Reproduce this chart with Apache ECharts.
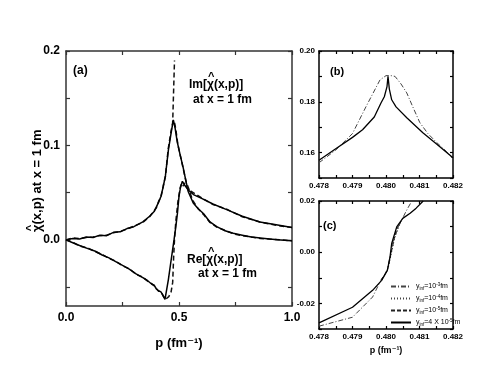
<!DOCTYPE html>
<html>
<head>
<meta charset="utf-8">
<script src="https://cdn.jsdelivr.net/npm/echarts@6/dist/echarts.min.js"></script>
<style>
  html, body { margin: 0; padding: 0; background: #fff; }
  #chart { width: 491px; height: 378px; }
</style>
</head>
<body>
<div id="chart"></div>
<script>
// panel (a): Im and Re of chi-hat at x = 1 fm
var pImSolid = [0, 0.03, 0.06, 0.09, 0.12, 0.15, 0.18, 0.21, 0.24, 0.27, 0.30, 0.34, 0.37, 0.39, 0.40, 0.41, 0.42, 0.43, 0.44, 0.453, 0.465, 0.475, 0.483, 0.492, 0.505, 0.518, 0.53, 0.541, 0.563, 0.585, 0.608, 0.637, 0.667, 0.70, 0.74, 0.78, 0.82, 0.86, 0.90, 0.95, 1.0];
var imSolid = [0, 0.0015, 0.001, 0.003, 0.0025, 0.005, 0.0045, 0.008, 0.0085, 0.012, 0.014, 0.019, 0.025, 0.030, 0.035, 0.040, 0.046, 0.056, 0.068, 0.095, 0.113, 0.127, 0.118, 0.104, 0.090, 0.077, 0.063, 0.051, 0.039, 0.033, 0.028, 0.019, 0.014, 0.010, 0.007, 0.005, 0.003, 0.002, 0.001, 0.0, -0.001];
// the dashed spike is drawn once (null after its top) so its dashes stay visible
var pImDash = [0, 0.03, 0.06, 0.09, 0.12, 0.15, 0.18, 0.21, 0.24, 0.27, 0.30, 0.34, 0.37, 0.39, 0.40, 0.41, 0.42, 0.43, 0.44, 0.452, 0.464, 0.472, 0.4801, 0.4801, 0.4805, 0.486, 0.495, 0.507, 0.52, 0.532, 0.545, 0.56, 0.585, 0.608, 0.637, 0.667, 0.70, 0.74, 0.78, 0.82, 0.86, 0.90, 0.95, 1.0];
var imDash = [0, 0.002, 0.0015, 0.0025, 0.003, 0.0045, 0.005, 0.0075, 0.009, 0.0115, 0.0145, 0.0185, 0.0245, 0.031, 0.034, 0.041, 0.045, 0.057, 0.067, 0.096, 0.114, 0.124, 0.19, null, 0.124, 0.117, 0.101, 0.088, 0.074, 0.061, 0.053, 0.042, 0.033, 0.027, 0.0185, 0.0135, 0.0105, 0.0065, 0.0045, 0.003, 0.0015, 0.001, 0.0, -0.001];
var pReSolid = [0, 0.03, 0.06, 0.10, 0.13, 0.16, 0.19, 0.22, 0.25, 0.28, 0.31, 0.34, 0.36, 0.38, 0.39, 0.40, 0.41, 0.42, 0.43, 0.438, 0.445, 0.453, 0.463, 0.472, 0.478, 0.486, 0.493, 0.50, 0.507, 0.515, 0.525, 0.54, 0.564, 0.60, 0.65, 0.711, 0.78, 0.858, 0.93, 1.0];
var reSolid = [0, -0.003, -0.006, -0.0095, -0.012, -0.016, -0.019, -0.023, -0.027, -0.031, -0.036, -0.040, -0.043, -0.047, -0.048, -0.052, -0.054, -0.055, -0.059, -0.063, -0.061, -0.042, -0.025, -0.010, 0.0, 0.014, 0.028, 0.046, 0.056, 0.062, 0.058, 0.053, 0.048, 0.044, 0.038, 0.032, 0.025, 0.019, 0.016, 0.013];
var pReDash = [0, 0.03, 0.06, 0.10, 0.13, 0.16, 0.19, 0.22, 0.25, 0.28, 0.31, 0.34, 0.36, 0.38, 0.39, 0.40, 0.41, 0.42, 0.43, 0.44, 0.447, 0.455, 0.465, 0.472, 0.476, 0.48, 0.486, 0.495, 0.505, 0.512, 0.52, 0.527, 0.54, 0.556, 0.564, 0.60, 0.65, 0.711, 0.78, 0.858, 0.93, 1.0];
var reDash = [0, -0.0025, -0.0065, -0.009, -0.0125, -0.0155, -0.0195, -0.0225, -0.0275, -0.0305, -0.0365, -0.0395, -0.0435, -0.0465, -0.0485, -0.0515, -0.0545, -0.0545, -0.0595, -0.063, -0.065, -0.060, -0.055, -0.045, -0.020, 0.0, 0.020, 0.040, 0.055, 0.060, 0.057, 0.061, 0.054, 0.051, 0.049, 0.0445, 0.0375, 0.0325, 0.0245, 0.019, 0.0155, 0.013];

// panel (b): zoom on the Im peak
var pPeakDashDot = [0.478, 0.4785, 0.479, 0.4794, 0.47982, 0.4800, 0.48015, 0.48027, 0.48045, 0.48062, 0.4808, 0.48101, 0.48125, 0.48151, 0.4818, 0.482];
var peakDashDot = [0.156, 0.161, 0.1675, 0.178, 0.1886, 0.1903, 0.1903, 0.190, 0.187, 0.1835, 0.178, 0.1718, 0.1675, 0.164, 0.1605, 0.1575];
var pPeakSolid = [0.478, 0.4785, 0.479, 0.4793, 0.47965, 0.47985, 0.47995, 0.48003, 0.48006, 0.4801, 0.48017, 0.4803, 0.48062, 0.4811, 0.4815, 0.482];
var peakSolid = [0.157, 0.1615, 0.166, 0.169, 0.174, 0.1795, 0.182, 0.186, 0.190, 0.185, 0.1808, 0.178, 0.1737, 0.1678, 0.1635, 0.158];

// panel (c): zoom on the Re zero crossing
var pCrossDashDot = [0.478, 0.479, 0.4796, 0.4798, 0.48004, 0.48022, 0.48042, 0.4806, 0.48077];
var crossDashDot = [-0.0289, -0.0254, -0.0175, -0.0122, -0.0071, 0.0047, 0.0113, 0.016, 0.0200];
var pCrossDot = [0.4797, 0.4799, 0.48008, 0.48024, 0.4804];
var crossDot = [-0.0135, -0.0105, -0.0055, 0.0045, 0.0108];
var pCrossDash = [0.47985, 0.48004, 0.48014, 0.4803, 0.48045];
var crossDash = [-0.0108, -0.0072, -0.0012, 0.0085, 0.0120];
var pCrossSolid = [0.478, 0.479, 0.4796, 0.47987, 0.48004, 0.48012, 0.48017, 0.48032, 0.4805, 0.48072, 0.4809, 0.48111];
var crossSolid = [-0.0276, -0.0215, -0.0149, -0.011, -0.0071, -0.0018, 0.0034, 0.0099, 0.0132, 0.0152, 0.0172, 0.0200];

var legendNames = ['y_inf=10^-3 fm', 'y_inf=10^-4 fm', 'y_inf=10^-5 fm', 'y_inf=4x10^-5 fm'];
var legendRich = [
  '{n|y}{s|inf}{n|=10}{p|-3}{n|fm}',
  '{n|y}{s|inf}{n|=10}{p|-4}{n|fm}',
  '{n|y}{s|inf}{n|=10}{p|-5}{n|fm}',
  '{n|y}{s|inf}{n|=4 X 10}{p|-5}{n|fm}'
];

// ticks and tick labels
var aXTicks = [0, 0.25, 0.5, 0.75, 1.0];
var aXLabels = [0, 0.5, 1.0];
var aYTicks = [-0.05, 0, 0.05, 0.1, 0.15, 0.2];
var aYLabels = [0, 0.1, 0.2];
var zoomXTicks = [0.478, 0.4785, 0.479, 0.4795, 0.48, 0.4805, 0.481, 0.4815, 0.482];
var zoomXLabels = [0.478, 0.479, 0.480, 0.481, 0.482];
var bYTicks = [0.15, 0.16, 0.17, 0.18, 0.19, 0.20];
var bYLabels = [0.16, 0.18, 0.20];
var cYTicks = [-0.03, -0.02, -0.01, 0, 0.01, 0.02];
var cYLabels = [-0.02, 0, 0.02];

function zip(xs, ys) {
  return xs.map(function (x, i) { return [x, ys[i]]; });
}

var FONT = '"Liberation Sans", Arial, "DejaVu Sans", sans-serif';

function frameAxis(grid, pos, min, max, ticks, labels, digits, fontSize, tickLen, lineColor) {
  return {
    type: 'value',
    gridIndex: grid,
    position: pos,
    min: min,
    max: max,
    axisLine: { show: true, onZero: false, lineStyle: { color: lineColor, width: 1.5 } },
    axisTick: { show: true, inside: true, length: tickLen, customValues: ticks, lineStyle: { color: lineColor, width: 1.2 } },
    axisLabel: labels ? {
      show: true,
      customValues: labels,
      formatter: function (v) { return (+v).toFixed(digits); },
      color: '#000',
      fontFamily: FONT,
      fontWeight: 'bold',
      fontSize: fontSize,
      margin: fontSize < 10 ? 4 : 6
    } : { show: false },
    splitLine: { show: false }
  };
}

var xAxes = [
  frameAxis(0, 'bottom', 0, 1, aXTicks, aXLabels, 1, 12, 4, '#333'),
  frameAxis(0, 'top', 0, 1, aXTicks, null, 1, 12, 4, '#333'),
  frameAxis(1, 'bottom', 0.478, 0.482, zoomXTicks, zoomXLabels, 3, 8, 3, '#000'),
  frameAxis(1, 'top', 0.478, 0.482, zoomXTicks, null, 3, 8, 3, '#000'),
  frameAxis(2, 'bottom', 0.478, 0.482, zoomXTicks, zoomXLabels, 3, 8, 3, '#000'),
  frameAxis(2, 'top', 0.478, 0.482, zoomXTicks, null, 3, 8, 3, '#000')
];
xAxes[0].name = 'p (fm\u207B\u00B9)';
xAxes[0].nameLocation = 'middle';
xAxes[0].nameGap = 31;
xAxes[0].nameTextStyle = { color: '#000', fontFamily: FONT, fontWeight: 'bold', fontSize: 13 };
xAxes[4].name = 'p (fm\u207B\u00B9)';
xAxes[4].nameLocation = 'middle';
xAxes[4].nameGap = 17;
xAxes[4].nameTextStyle = { color: '#000', fontFamily: FONT, fontWeight: 'bold', fontSize: 9 };

var yAxes = [
  frameAxis(0, 'left', -0.07, 0.2, aYTicks, aYLabels, 1, 12, 4, '#333'),
  frameAxis(0, 'right', -0.07, 0.2, aYTicks, null, 1, 12, 4, '#333'),
  frameAxis(1, 'left', 0.15, 0.20, bYTicks, bYLabels, 2, 8, 3, '#000'),
  frameAxis(1, 'right', 0.15, 0.20, bYTicks, null, 2, 8, 3, '#000'),
  frameAxis(2, 'left', -0.03, 0.02, cYTicks, cYLabels, 2, 8, 3, '#000'),
  frameAxis(2, 'right', -0.03, 0.02, cYTicks, null, 2, 8, 3, '#000')
];

function curve(name, xi, yi, xs, ys, color, width, type) {
  return {
    name: name,
    type: 'line',
    xAxisIndex: xi,
    yAxisIndex: yi,
    data: zip(xs, ys),
    symbol: 'none',
    smooth: false,
    connectNulls: false,
    lineStyle: { color: color, width: width, type: type },
    itemStyle: { color: color },
    emphasis: { disabled: true }
  };
}

// label with a hat over chi: main text plus a separate "^"
function hatLabel(left, top, text, hatDx) {
  return [
    { type: 'text', left: left, top: top, style: { text: text, font: 'bold 12px ' + FONT, fill: '#000' } },
    { type: 'text', left: left + hatDx, top: top - 8, style: { text: '^', font: 'bold 11px ' + FONT, fill: '#000' } }
  ];
}

var graphics = [
  { type: 'text', left: 73, top: 65, style: { text: '(a)', font: 'bold 12px ' + FONT, fill: '#000' } },
  { type: 'text', left: 193, top: 94, style: { text: 'at x = 1 fm', font: 'bold 12px ' + FONT, fill: '#000' } },
  { type: 'text', left: 198, top: 268, style: { text: 'at x = 1 fm', font: 'bold 12px ' + FONT, fill: '#000' } },
  { type: 'text', left: 330, top: 66, style: { text: '(b)', font: 'bold 11px ' + FONT, fill: '#000' } },
  { type: 'text', left: 323, top: 220, style: { text: '(c)', font: 'bold 11px ' + FONT, fill: '#000' } },
  // rotated y title of panel (a), reading bottom to top from chi
  {
    type: 'group', x: 37, y: 176, rotation: Math.PI / 2,
    children: [
      { type: 'text', x: -56, y: 0, style: { text: '\u03C7(x,p) at x = 1 fm', font: 'bold 13px ' + FONT, fill: '#000', align: 'left', verticalAlign: 'middle' } },
      { type: 'text', x: -52, y: -6, style: { text: '^', font: 'bold 11px ' + FONT, fill: '#000', align: 'center', verticalAlign: 'middle' } }
    ]
  }
].concat(hatLabel(189, 79, 'Im[\u03C7(x,p)]', 19)).concat(hatLabel(187, 254, 'Re[\u03C7(x,p)]', 21));

var chart = echarts.init(document.getElementById('chart'), null, { renderer: 'canvas' });

chart.setOption({
  animation: false,
  backgroundColor: '#fff',
  grid: [
    { left: 66, top: 51, width: 226, height: 255 },
    { left: 319, top: 51, width: 134, height: 127 },
    { left: 319, top: 201, width: 134, height: 128 }
  ],
  xAxis: xAxes,
  yAxis: yAxes,
  legend: {
    data: legendNames,
    orient: 'vertical',
    left: 385,
    top: 277,
    itemWidth: 20,
    itemHeight: 8,
    itemGap: 3,
    selectedMode: false,
    itemStyle: { opacity: 0 },
    formatter: function (name) { return legendRich[legendNames.indexOf(name)]; },
    textStyle: {
      color: '#000',
      fontFamily: FONT,
      rich: {
        n: { fontSize: 7, lineHeight: 9, fontFamily: FONT, color: '#000' },
        s: { fontSize: 4.5, fontFamily: FONT, color: '#000', verticalAlign: 'bottom' },
        p: { fontSize: 4.5, fontFamily: FONT, color: '#000', verticalAlign: 'top' }
      }
    }
  },
  graphic: graphics,
  series: [
    curve('im-a', 0, 0, pImDash, imDash, '#111', 1.5, [5, 3]),
    curve('im-b', 0, 0, pImSolid, imSolid, '#000', 1.5, 'solid'),
    curve('re-a', 0, 0, pReDash, reDash, '#111', 1.5, [5, 3]),
    curve('re-b', 0, 0, pReSolid, reSolid, '#000', 1.5, 'solid'),

    curve(legendNames[0], 2, 2, pPeakDashDot, peakDashDot, '#444', 1, [5, 2, 1, 2]),
    curve(legendNames[3], 2, 2, pPeakSolid, peakSolid, '#000', 1.3, 'solid'),

    curve(legendNames[0], 4, 4, pCrossDashDot, crossDashDot, '#444', 1, [5, 2, 1, 2]),
    curve(legendNames[1], 4, 4, pCrossDot, crossDot, '#444', 1, [1, 2]),
    curve(legendNames[2], 4, 4, pCrossDash, crossDash, '#222', 1, [4, 2]),
    curve(legendNames[3], 4, 4, pCrossSolid, crossSolid, '#000', 1.3, 'solid')
  ]
});
</script>
</body>
</html>
